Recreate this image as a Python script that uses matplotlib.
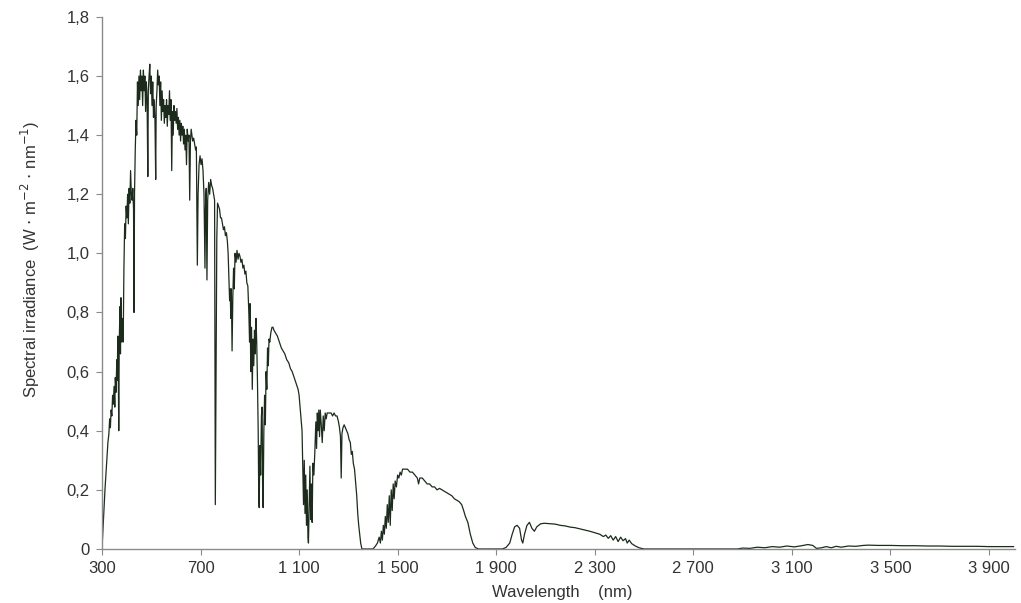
import matplotlib
matplotlib.use('Agg')
import matplotlib.pyplot as plt
from matplotlib.ticker import FuncFormatter

# wavelength (nm) and spectral irradiance (W m-2 nm-1)
wavelength = [
    300, 306, 312, 318, 324, 328, 331, 334, 337, 340, 343, 346, 349, 352, 354, 357,
    360, 362, 364, 366, 368, 370, 373, 375, 377, 380, 383, 386, 389, 392, 395, 398,
    401, 404, 407, 410, 413, 416, 419, 422, 425, 428, 430, 432, 435, 438, 441, 444,
    447, 450, 453, 456, 459, 462, 465, 468, 471, 474, 477, 480, 483, 486, 488, 491,
    494, 497, 500, 503, 506, 509, 512, 515, 518, 520, 523, 526, 529, 532, 535, 538,
    541, 544, 547, 550, 553, 556, 559, 562, 565, 568, 571, 574, 577, 580, 583, 586,
    589, 592, 595, 598, 601, 604, 607, 610, 613, 616, 619, 622, 625, 628, 631, 634,
    637, 640, 643, 646, 650, 653, 656, 659, 662, 665, 668, 672, 676, 680, 683, 687,
    690, 694, 698, 702, 706, 710, 714, 718, 720, 723, 726, 729, 733, 737, 741, 745,
    749, 753, 757, 760, 763, 766, 769, 773, 777, 781, 785, 789, 793, 797, 801, 805,
    809, 812, 815, 818, 820, 823, 825, 828, 831, 834, 837, 840, 844, 848, 852, 856,
    860, 864, 868, 872, 876, 880, 884, 888, 892, 896, 899, 901, 904, 907, 910, 913,
    916, 919, 922, 925, 928, 931, 934, 936, 938, 941, 944, 947, 950, 952, 954, 957,
    960, 963, 966, 969, 972, 975, 978, 981, 985, 990, 994, 998, 1005, 1012, 1020, 1028,
    1035, 1042, 1050, 1058, 1065, 1072, 1080, 1088, 1096, 1100, 1104, 1108, 1112, 1115, 1118, 1121,
    1124, 1127, 1130, 1133, 1136, 1138, 1141, 1144, 1147, 1150, 1153, 1156, 1160, 1164, 1168, 1171,
    1174, 1177, 1180, 1183, 1186, 1190, 1194, 1198, 1202, 1206, 1210, 1214, 1218, 1224, 1230, 1236,
    1242, 1248, 1254, 1260, 1264, 1268, 1271, 1274, 1278, 1283, 1288, 1293, 1298, 1303, 1308, 1312,
    1316, 1320, 1325, 1330, 1334, 1338, 1342, 1346, 1350, 1355, 1400, 1410, 1418, 1425, 1430, 1434,
    1438, 1442, 1446, 1450, 1454, 1458, 1462, 1466, 1470, 1474, 1478, 1482, 1486, 1490, 1495, 1500,
    1505, 1510, 1515, 1520, 1530, 1540, 1550, 1560, 1570, 1580, 1585, 1590, 1600, 1610, 1620, 1630,
    1640, 1650, 1660, 1670, 1680, 1690, 1700, 1710, 1720, 1730, 1740, 1750, 1760, 1768, 1775, 1785,
    1795, 1805, 1815, 1828, 1925, 1940, 1955, 1965, 1975, 1985, 1995, 2003, 2008, 2015, 2025, 2035,
    2045, 2055, 2065, 2080, 2095, 2110, 2125, 2140, 2160, 2180, 2200, 2220, 2240, 2260, 2280, 2300,
    2320, 2335, 2345, 2355, 2365, 2375, 2385, 2395, 2405, 2415, 2425, 2432, 2440, 2450, 2465, 2480,
    2500, 2880, 2900, 2930, 2960, 2990, 3020, 3050, 3080, 3110, 3140, 3165, 3185, 3200, 3220, 3240,
    3260, 3280, 3300, 3330, 3360, 3390, 3410, 3450, 3500, 3550, 3600, 3650, 3700, 3750, 3800, 3850,
    3900, 3950, 4000,
]
irradiance = [
    0.00, 0.10, 0.20, 0.28, 0.36, 0.39, 0.44, 0.41, 0.47, 0.45, 0.52, 0.49, 0.55, 0.48, 0.58, 0.53,
    0.64, 0.57, 0.72, 0.62, 0.40, 0.70, 0.82, 0.66, 0.85, 0.70, 0.78, 0.70, 0.95, 1.10, 1.05, 1.16,
    1.12, 1.20, 1.10, 1.22, 1.17, 1.28, 1.20, 1.18, 1.22, 1.15, 0.80, 1.20, 1.35, 1.45, 1.40, 1.58,
    1.50, 1.60, 1.52, 1.62, 1.55, 1.60, 1.50, 1.62, 1.55, 1.60, 1.48, 1.58, 1.52, 1.26, 1.55, 1.60,
    1.64, 1.54, 1.60, 1.50, 1.58, 1.46, 1.52, 1.45, 1.25, 1.50, 1.55, 1.62, 1.57, 1.60, 1.50, 1.58,
    1.45, 1.55, 1.48, 1.52, 1.44, 1.50, 1.46, 1.52, 1.43, 1.50, 1.47, 1.55, 1.45, 1.52, 1.28, 1.48,
    1.40, 1.50, 1.45, 1.48, 1.44, 1.49, 1.42, 1.46, 1.40, 1.45, 1.38, 1.44, 1.40, 1.43, 1.37, 1.42,
    1.35, 1.40, 1.30, 1.42, 1.38, 1.40, 1.18, 1.38, 1.42, 1.40, 1.38, 1.39, 1.37, 1.35, 1.36, 0.96,
    1.20, 1.30, 1.33, 1.30, 1.32, 1.28, 1.20, 0.95, 1.15, 1.22, 0.91, 1.18, 1.24, 1.20, 1.25, 1.23,
    1.22, 1.20, 1.18, 0.15, 0.60, 1.05, 1.17, 1.16, 1.15, 1.12, 1.12, 1.10, 1.08, 1.09, 1.06, 1.07,
    1.04, 1.00, 0.92, 0.84, 0.88, 0.78, 0.88, 0.67, 0.85, 0.95, 0.88, 1.00, 0.97, 1.01, 0.98, 1.00,
    0.99, 0.97, 0.98, 0.95, 0.96, 0.93, 0.94, 0.90, 0.89, 0.80, 0.70, 0.83, 0.60, 0.75, 0.54, 0.71,
    0.62, 0.74, 0.66, 0.78, 0.70, 0.57, 0.40, 0.20, 0.14, 0.35, 0.25, 0.45, 0.48, 0.20, 0.14, 0.40,
    0.52, 0.42, 0.60, 0.54, 0.68, 0.62, 0.71, 0.70, 0.73, 0.75, 0.75, 0.74, 0.73, 0.72, 0.70, 0.68,
    0.67, 0.66, 0.64, 0.63, 0.61, 0.60, 0.58, 0.56, 0.54, 0.52, 0.48, 0.44, 0.40, 0.28, 0.15, 0.30,
    0.12, 0.25, 0.08, 0.20, 0.04, 0.02, 0.15, 0.28, 0.10, 0.22, 0.09, 0.29, 0.25, 0.33, 0.43, 0.34,
    0.46, 0.40, 0.47, 0.38, 0.47, 0.42, 0.36, 0.45, 0.40, 0.46, 0.44, 0.46, 0.46, 0.46, 0.46, 0.45,
    0.46, 0.45, 0.45, 0.43, 0.41, 0.38, 0.24, 0.39, 0.41, 0.42, 0.41, 0.40, 0.39, 0.37, 0.36, 0.32,
    0.33, 0.29, 0.27, 0.22, 0.18, 0.12, 0.08, 0.05, 0.02, 0.00, 0.00, 0.01, 0.02, 0.04, 0.02, 0.06,
    0.03, 0.08, 0.05, 0.11, 0.07, 0.15, 0.09, 0.18, 0.08, 0.20, 0.13, 0.22, 0.17, 0.23, 0.21, 0.25,
    0.24, 0.26, 0.25, 0.27, 0.27, 0.27, 0.26, 0.26, 0.25, 0.24, 0.22, 0.24, 0.24, 0.23, 0.22, 0.22,
    0.21, 0.21, 0.20, 0.205, 0.20, 0.195, 0.19, 0.185, 0.18, 0.17, 0.165, 0.16, 0.15, 0.13, 0.11, 0.09,
    0.05, 0.02, 0.005, 0.00, 0.00, 0.005, 0.02, 0.05, 0.075, 0.08, 0.07, 0.03, 0.02, 0.05, 0.08, 0.09,
    0.07, 0.06, 0.075, 0.085, 0.087, 0.086, 0.085, 0.084, 0.08, 0.078, 0.074, 0.072, 0.068, 0.064, 0.06, 0.055,
    0.05, 0.042, 0.047, 0.036, 0.045, 0.03, 0.042, 0.025, 0.040, 0.028, 0.035, 0.02, 0.03, 0.018, 0.01, 0.004,
    0.00, 0.00, 0.003, 0.002, 0.006, 0.004, 0.008, 0.006, 0.010, 0.007, 0.011, 0.015, 0.012, 0.002, 0.004, 0.008,
    0.004, 0.009, 0.006, 0.010, 0.009, 0.012, 0.013, 0.012, 0.012, 0.011, 0.011, 0.010, 0.010, 0.009, 0.009, 0.009,
    0.008, 0.008, 0.008,
]

x_ticks = [300, 700, 1100, 1500, 1900, 2300, 2700, 3100, 3500, 3900]
y_ticks = [0, 0.2, 0.4, 0.6, 0.8, 1.0, 1.2, 1.4, 1.6, 1.8]

plt.rcParams['font.family'] = ['Liberation Sans', 'DejaVu Sans']

fig = plt.figure(figsize=(10.21, 6.03), dpi=100)
ax = fig.add_axes([0.0999, 0.0896, 0.894, 0.8824])
ax.plot(wavelength, irradiance, color='#1c2b1c', linewidth=0.9)

ax.set_xlim(300, 4005)
ax.set_ylim(0, 1.8)
ax.set_xticks(x_ticks)
ax.set_yticks(y_ticks)
ax.xaxis.set_major_formatter(FuncFormatter(lambda v, p: '{:,}'.format(int(v)).replace(',', ' ')))
ax.yaxis.set_major_formatter(FuncFormatter(lambda v, p: '0' if v == 0 else '{:.1f}'.format(v).replace('.', ',')))

for side in ['top', 'right']:
    ax.spines[side].set_visible(False)
for side in ['left', 'bottom']:
    ax.spines[side].set_color('#8a8a8a')
    ax.spines[side].set_linewidth(1.0)
ax.tick_params(direction='out', length=4, width=0.8, color='#8a8a8a',
               labelsize=12, labelcolor='#333333')
ax.tick_params(axis='x', pad=5)
ax.tick_params(axis='y', pad=5)

ax.set_xlabel('Wavelength    (nm)', fontsize=12, color='#333333')
ax.xaxis.set_label_coords(0.504, -0.068)
ax.set_ylabel(r'Spectral irradiance  (W $\cdot$ m$^{-2}$ $\cdot$ nm$^{-1}$)',
              fontsize=12, color='#333333',
              family=['Liberation Sans Narrow', 'Liberation Sans', 'DejaVu Sans'])
ax.yaxis.set_label_coords(-0.066, 0.545)

fig.savefig('out.png', dpi=100)
